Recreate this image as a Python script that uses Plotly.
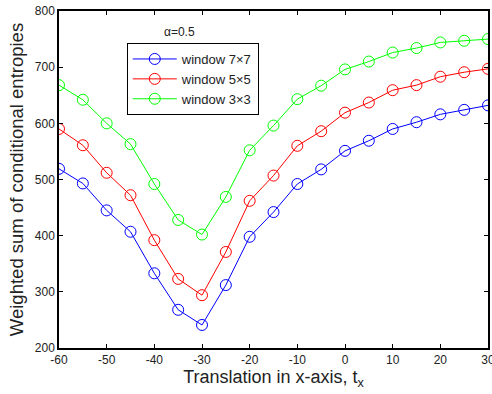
import plotly.graph_objects as go

tx = [-60, -55, -50, -45, -40, -35, -30, -25, -20, -15, -10, -5, 0, 5, 10, 15, 20, 25, 30]
win7 = [519, 493, 445, 407, 333, 268, 241, 312, 398, 442, 492, 518, 551, 569, 590, 602, 616, 624, 632]
win5 = [590, 561, 512, 472, 392, 323, 294, 371, 462, 507, 560, 586, 619, 637, 659, 668, 683, 691, 697]
win3 = [668, 642, 600, 563, 492, 428, 402, 469, 552, 596, 643, 667, 696, 710, 726, 734, 744, 747, 750]

xticks = [-60, -50, -40, -30, -20, -10, 0, 10, 20, 30]
xticklabels = ["-60", "-50", "-40", "-30", "-20", "-10", "0", "10", "20", "30"]
yticks = [200, 300, 400, 500, 600, 700, 800]
yticklabels = ["200", "300", "400", "500", "600", "700", "800"]

series = [
    ("window 7\u00d77", win7, "#0000ff"),
    ("window 5\u00d75", win5, "#ff0000"),
    ("window 3\u00d73", win3, "#00ff00"),
]

FONT = "Liberation Sans, Arial"

fig = go.Figure()
for name, vals, col in series:
    fig.add_trace(go.Scatter(
        x=tx, y=vals, name=name, mode="lines+markers",
        line=dict(color=col, width=1),
        marker=dict(symbol="circle-open", size=11, color=col, line=dict(width=1, color=col)),
    ))

axis_common = dict(
    showline=True, linecolor="black", linewidth=1.5, mirror="ticks",
    ticks="inside", ticklen=4, tickcolor="black", showgrid=False, zeroline=False,
    ticklabeloverflow="allow", automargin=False,
    tickfont=dict(family=FONT, size=12, color="#222"),
)

fig.update_layout(
    width=492, height=394,
    margin=dict(l=59, r=4, t=11, b=46),
    paper_bgcolor="white", plot_bgcolor="white",
    showlegend=True,
    legend=dict(
        x=0.158, y=0.905, xanchor="left", yanchor="top",
        bordercolor="black", borderwidth=1, bgcolor="white",
        font=dict(family=FONT, size=13, color="#222"),
        tracegroupgap=0, itemwidth=44,
    ),
    xaxis=dict(
        range=[-60, 30], tickmode="array", tickvals=xticks, ticktext=xticklabels,
        title=dict(text="Translation in x-axis, t<sub>x</sub>", standoff=2,
                   font=dict(family=FONT, size=18, color="#222")),
        **axis_common,
    ),
    yaxis=dict(
        range=[200, 800], tickmode="array", tickvals=yticks, ticktext=yticklabels,
        title=dict(text="Weighted sum of conditional entropies", standoff=6,
                   font=dict(family=FONT, size=18.5, color="#222")),
        **axis_common,
    ),
    annotations=[dict(
        x=0.282, y=0.937, xref="paper", yref="paper", text="\u03b1=0.5",
        xanchor="center", yanchor="middle",
        showarrow=False, font=dict(family=FONT, size=12, color="#222"),
    )],
)

fig.write_html("out.html")
